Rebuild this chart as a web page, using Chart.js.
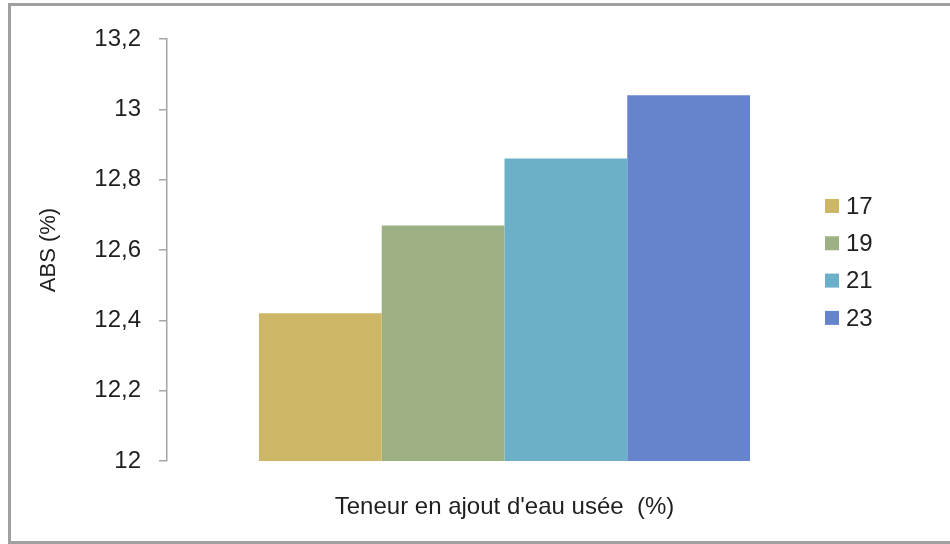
<!DOCTYPE html>
<html>
<head>
<meta charset="utf-8">
<script src="https://cdn.jsdelivr.net/npm/chart.js@4"></script>
<style>
  html, body { margin: 0; padding: 0; background: #fff; }
  #wrap { position: relative; width: 950px; height: 544px; overflow: hidden; }
  #graf { position: absolute; left: 0; top: 0; }
  #cadre {
    position: absolute; left: 8px; top: 3px; width: 950px; height: 535px;
    border: 3px solid #a0a0a0; border-right: none; pointer-events: none;
  }
</style>
</head>
<body>
<div id="wrap">
  <canvas id="graf" width="950" height="544"></canvas>
  <div id="cadre"></div>
</div>
<script>
// Données du graphique
const categories = [''];
const teneurs = ['17', '19', '21', '23'];
const absValeurs = [12.42, 12.67, 12.86, 13.04];
const couleurs = ['#CDB767', '#9DB084', '#6CAFC9', '#6584CC'];
const ticksY = [12, 12.2, 12.4, 12.6, 12.8, 13, 13.2];

const POLICE = 'Liberation Sans, Arial, sans-serif';
const TEXTE = '#1f1f1f';

// Légende dessinée à droite, dans la zone du graphique
const legendeDroite = {
    id: 'legendeDroite',
    afterDraw(chart) {
        const ctx = chart.ctx;
        ctx.save();
        ctx.font = '24px ' + POLICE;
        ctx.textBaseline = 'middle';
        ctx.textAlign = 'left';
        chart.data.datasets.forEach((ds, i) => {
            const y = 206 + i * 37.3;
            ctx.fillStyle = ds.backgroundColor;
            ctx.fillRect(825, y - 7, 14, 14);
            ctx.fillStyle = TEXTE;
            ctx.fillText(ds.label, 846, y + 1);
        });
        ctx.restore();
    }
};

new Chart(document.getElementById('graf'), {
    type: 'bar',
    data: {
        labels: categories,
        datasets: teneurs.map((t, i) => ({
            label: t,
            data: [absValeurs[i]],
            backgroundColor: couleurs[i],
            borderWidth: 0,
            barPercentage: 1,
            categoryPercentage: 0.7274
        }))
    },
    options: {
        responsive: false,
        animation: false,
        layout: { padding: { top: 39, right: 108, bottom: 0, left: 0 } },
        plugins: { legend: { display: false }, tooltip: { enabled: false } },
        scales: {
            x: {
                grid: { display: false },
                border: { display: false },
                ticks: { display: false },
                title: {
                    display: true,
                    text: "Teneur en ajout d'eau usée  (%)",
                    color: TEXTE,
                    font: { family: POLICE, size: 24 },
                    padding: { top: 0, bottom: 22 }
                },
                afterFit(scale) { scale.height = 544 - 461; }
            },
            y: {
                min: 12,
                max: 13.2,
                afterBuildTicks(scale) { scale.ticks = ticksY.map(v => ({ value: v })); },
                ticks: {
                    color: TEXTE,
                    font: { family: POLICE, size: 24 },
                    padding: 18,
                    callback: v => String(Math.round(v * 10) / 10).replace('.', ',')
                },
                grid: { drawOnChartArea: false, drawTicks: true, tickLength: 8, color: '#a6a6a6', lineWidth: 1.5 },
                border: { color: '#a6a6a6', width: 1.5 },
                title: {
                    display: true,
                    text: 'ABS (%)',
                    color: TEXTE,
                    font: { family: POLICE, size: 22 },
                    padding: { top: 36, bottom: 0 }
                },
                afterFit(scale) { scale.width = 167; }
            }
        }
    },
    plugins: [legendeDroite]
});
</script>
</body>
</html>
